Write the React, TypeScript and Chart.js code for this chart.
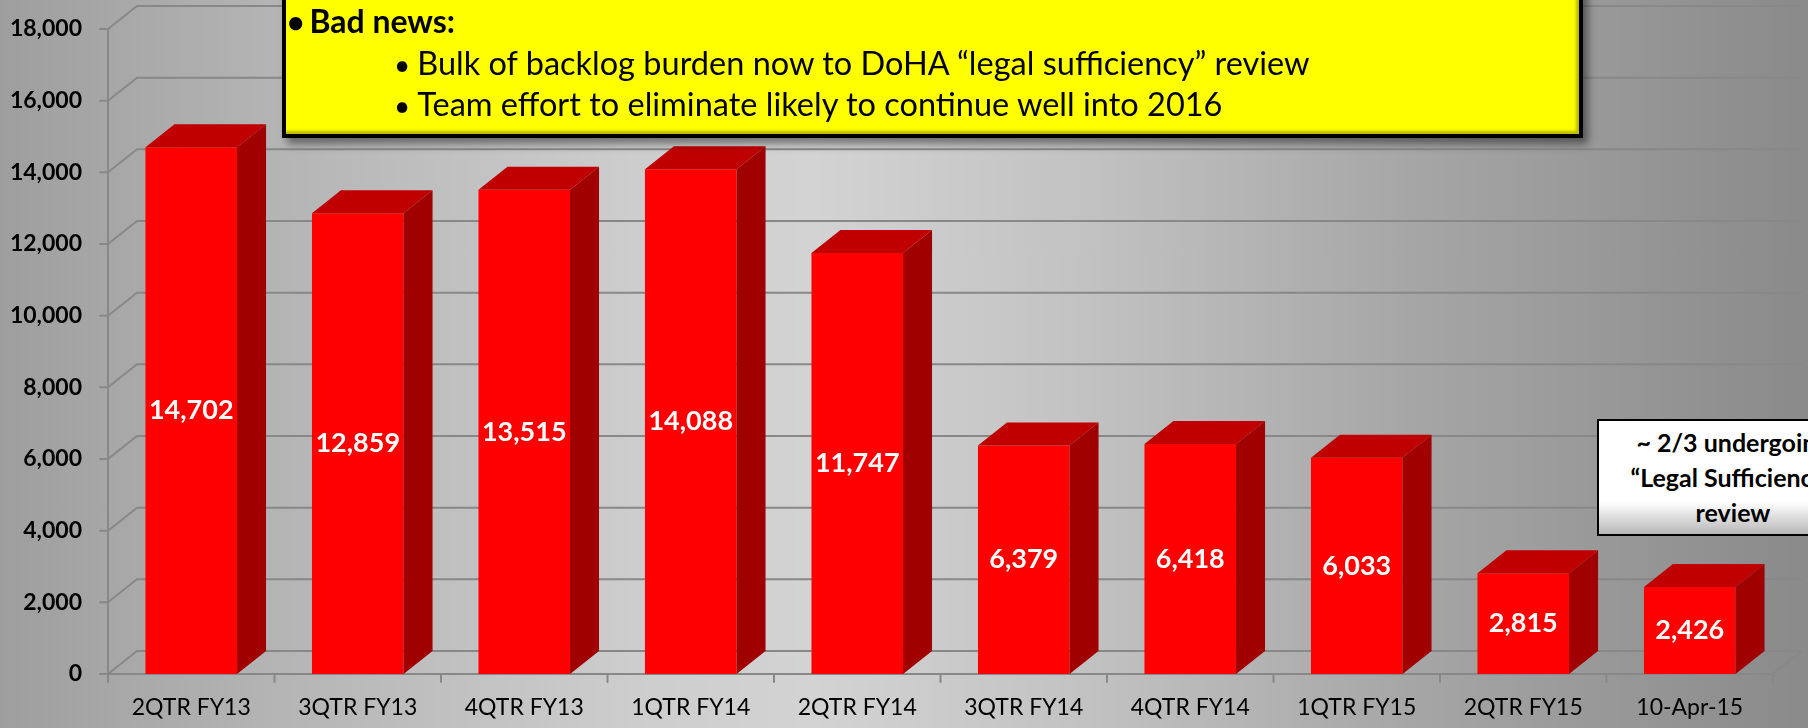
import React, { useEffect, useRef } from "react";
import { Chart, registerables } from "chart.js";

Chart.register(...registerables);

const categories = [
  "2QTR FY13",
  "3QTR FY13",
  "4QTR FY13",
  "1QTR FY14",
  "2QTR FY14",
  "3QTR FY14",
  "4QTR FY14",
  "1QTR FY15",
  "2QTR FY15",
  "10-Apr-15",
];
const backlogValues = [14702, 12859, 13515, 14088, 11747, 6379, 6418, 6033, 2815, 2426];
const yMin = 0;
const yMax = 18000;
const yStep = 2000;

const noteTitle = "Bad news:";
const noteLines = [
  "Bulk of backlog burden now to DoHA \u201Clegal sufficiency\u201D review",
  "Team effort to eliminate likely to continue well into 2016",
];
const sideNoteLines = ["~ 2/3 undergoing", "\u201CLegal Sufficiency\u201D", "review"];

const DX = 29;
const DY = 23;
const FONT = "Lato, 'Open Sans', sans-serif";

const fmt = (v: number) => v.toLocaleString("en-US");

const bar3d = {
  id: "bar3d",
  beforeDatasetsDraw(chart: any) {
    const { ctx, chartArea: a, scales } = chart;
    const y = scales.y;
    const x = scales.x;
    ctx.save();
    ctx.lineCap = "round";
    ctx.strokeStyle = "#888888";
    ctx.lineWidth = 2;
    y.ticks.forEach((t: any) => {
      const py = y.getPixelForValue(t.value);
      ctx.beginPath();
      ctx.moveTo(a.left, py);
      ctx.lineTo(a.left + DX, py - DY);
      ctx.lineTo(a.right + DX, py - DY);
      ctx.stroke();
      ctx.beginPath();
      ctx.moveTo(a.left - 8, py);
      ctx.lineTo(a.left, py);
      ctx.stroke();
    });
    const p0 = y.getPixelForValue(0);
    ctx.beginPath();
    ctx.moveTo(a.left, p0);
    ctx.lineTo(a.right, p0);
    ctx.lineTo(a.right + DX, p0 - DY);
    ctx.stroke();
    ctx.beginPath();
    ctx.moveTo(a.left, y.getPixelForValue(yMax));
    ctx.lineTo(a.left, p0);
    ctx.stroke();
    const step = x.getPixelForValue(1) - x.getPixelForValue(0);
    for (let i = 0; i <= categories.length; i++) {
      const px = i < categories.length ? x.getPixelForValue(i) - step / 2 : a.right;
      ctx.beginPath();
      ctx.moveTo(px, p0);
      ctx.lineTo(px, p0 + 8);
      ctx.stroke();
    }
    ctx.restore();
  },
  afterDatasetsDraw(chart: any) {
    const { ctx } = chart;
    const meta = chart.getDatasetMeta(0);
    ctx.save();
    meta.data.forEach((el: any, i: number) => {
      const { x, y, base, width } = el.getProps(["x", "y", "base", "width"], true);
      const l = x - width / 2;
      const r = x + width / 2;
      ctx.fillStyle = "#c00000";
      ctx.beginPath();
      ctx.moveTo(l, y);
      ctx.lineTo(l + DX, y - DY);
      ctx.lineTo(r + DX, y - DY);
      ctx.lineTo(r, y);
      ctx.closePath();
      ctx.fill();
      ctx.fillStyle = "#a00000";
      ctx.beginPath();
      ctx.moveTo(r, y);
      ctx.lineTo(r + DX, y - DY);
      ctx.lineTo(r + DX, base - DY);
      ctx.lineTo(r, base);
      ctx.closePath();
      ctx.fill();
      ctx.fillStyle = "#ffffff";
      ctx.font = `bold 27px ${FONT}`;
      ctx.textAlign = "center";
      ctx.textBaseline = "middle";
      ctx.fillText(fmt(backlogValues[i]), x, (y + base) / 2);
    });
    ctx.restore();
  },
};

export default function App() {
  const ref = useRef<HTMLCanvasElement | null>(null);

  useEffect(() => {
    if (!ref.current) return;
    const chart = new Chart(ref.current, {
      type: "bar",
      data: {
        labels: categories,
        datasets: [
          {
            data: backlogValues,
            backgroundColor: "#ff0000",
            borderWidth: 0,
            categoryPercentage: 1,
            barPercentage: 0.55,
          },
        ],
      },
      options: {
        animation: false,
        responsive: false,
        devicePixelRatio: 1,
        layout: { padding: { top: 29, right: 35, left: 0, bottom: 0 } },
        plugins: { legend: { display: false }, tooltip: { enabled: false } },
        scales: {
          x: {
            grid: { display: false, drawTicks: false },
            border: { display: false },
            ticks: { color: "#000", font: { family: FONT, size: 23 }, padding: 20, maxRotation: 0 },
            afterFit(s: any) {
              s.height = 54;
            },
          },
          y: {
            min: yMin,
            max: yMax,
            grid: { display: false, drawTicks: true, tickLength: 26 },
            border: { display: false },
            ticks: {
              stepSize: yStep,
              color: "#000",
              font: { family: FONT, size: 23, weight: "bold" },
              padding: 0,
              callback: (v: any) => fmt(Number(v)),
            },
            afterFit(s: any) {
              s.width = 108;
            },
          },
        },
      },
      plugins: [bar3d],
    });
    return () => chart.destroy();
  }, []);

  return (
    <div
      style={{
        position: "absolute",
        left: 0,
        top: 0,
        width: 1808,
        height: 728,
        overflow: "hidden",
        fontFamily: FONT,
        background:
          "linear-gradient(to right, #9e9e9e 0%, #b4b4b4 15%, #cdcdcd 35%, #d3d3d3 45%, #c2c2c2 60%, #a6a6a6 78%, #8a8a8a 100%)",
      }}
    >
      <canvas ref={ref} width={1808} height={728} style={{ display: "block" }} />
      <div
        style={{
          position: "absolute",
          left: 282,
          top: -12,
          width: 1301,
          height: 150,
          boxSizing: "border-box",
          border: "4px solid #000",
          background: "#ffff00",
          boxShadow: "inset -3px -3px 3px rgba(120,120,0,0.5), 5px 6px 8px rgba(0,0,0,0.45)",
          color: "#000",
        }}
      >
        <div style={{ position: "absolute", left: 1, top: 9, fontSize: 32, fontWeight: "bold", lineHeight: "40px", whiteSpace: "nowrap" }}>
          <span style={{ fontSize: 30, marginRight: 5 }}>{"\u2022"}</span>
          {noteTitle}
        </div>
        {noteLines.map((t, i) => (
          <div
            key={i}
            style={{ position: "absolute", left: 108, top: 51 + i * 41, fontSize: 32.5, lineHeight: "40px", whiteSpace: "nowrap" }}
          >
            <span style={{ fontSize: 28, marginRight: 7 }}>{"\u2022"}</span>
            {t}
          </div>
        ))}
      </div>
      <div
        style={{
          position: "absolute",
          left: 1597,
          top: 419,
          width: 272,
          height: 117,
          boxSizing: "border-box",
          border: "2px solid #000",
          background: "linear-gradient(to bottom, #ffffff 0%, #ffffff 72%, #b8b8b8 100%)",
          color: "#000",
          fontWeight: "bold",
          fontSize: 25,
          lineHeight: "35px",
          textAlign: "center",
          paddingTop: 4,
        }}
      >
        {sideNoteLines.map((t, i) => (
          <div key={i} style={{ whiteSpace: "nowrap" }}>{t}</div>
        ))}
      </div>
    </div>
  );
}
